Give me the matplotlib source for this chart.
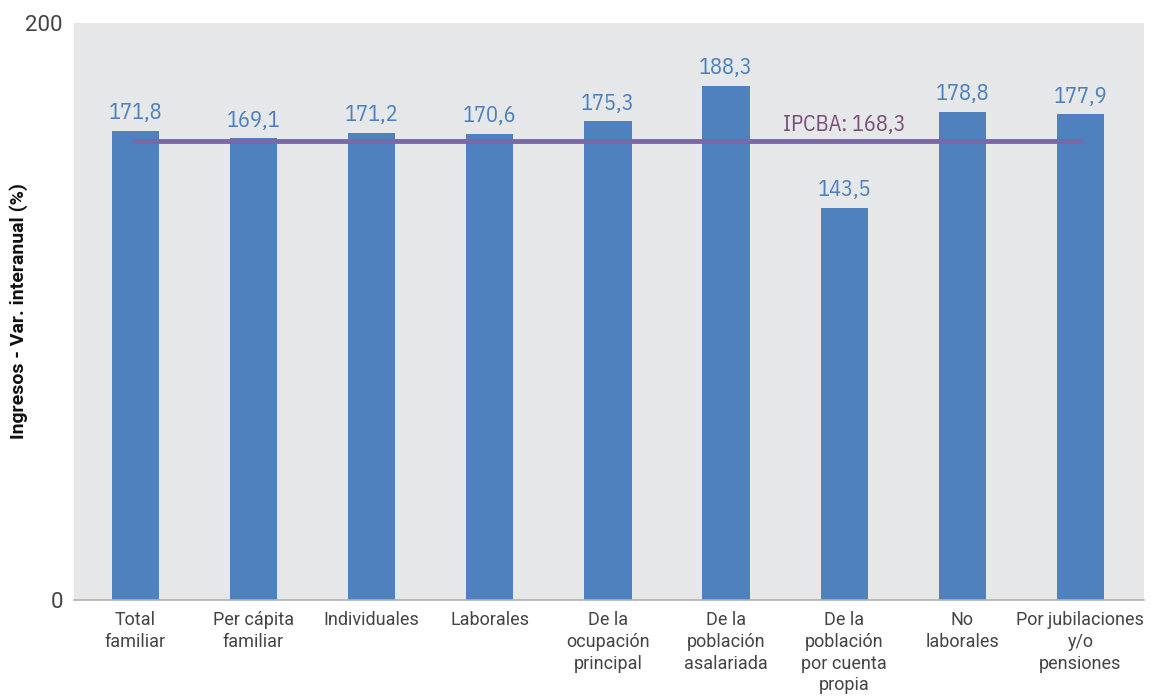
import matplotlib.pyplot as plt
import numpy as np

categories = ["Total\nfamiliar", "Per cápita\nfamiliar", "Individuales", "Laborales",
              "De la\nocupación\nprincipal", "De la\npoblación\nasalariada",
              "De la\npoblación\npor cuenta\npropia", "No\nlaborales",
              "Por jubilaciones\ny/o\npensiones"]
values = [171.8, 169.1, 171.2, 170.6, 175.3, 188.3, 143.5, 178.8, 177.9]
labels = ["171,8", "169,1", "171,2", "170,6", "175,3", "188,3", "143,5", "178,8", "177,9"]
ipcba = 168.3
ipcba_label = "IPCBA: 168,3"

narrow = ["IBM Plex Sans Condensed", "DejaVu Sans"]
plain = ["Roboto", "DejaVu Sans"]

fig = plt.figure(figsize=(11.52, 6.99), dpi=100)
ax = fig.add_axes([0.0642, 0.1416, 0.929, 0.826])
ax.set_facecolor("#e6e7e9")

x = np.arange(len(values))
ax.bar(x, values, width=0.4, color="#4e81bd", zorder=2)
for xi, v, lab in zip(x, values, labels):
    ax.text(xi, v + 2.5, lab, ha="center", va="bottom", color="#4a7fc0",
            fontsize=16, family=narrow)

ax.plot([x[0], x[-1]], [ipcba, ipcba], color="#7b68a8", lw=3.5, zorder=3)
ax.text(6.0, ipcba + 1.5, ipcba_label, ha="center", va="bottom", color="#7a4f7a",
        fontsize=16, family=narrow)

# the reference's top edge sits a bit above 200 and carries the "200" label
ax.set_ylim(0, 211.5)
ax.set_yticks([0, 211.5])
ax.set_yticklabels(["0", "200"], family=plain, fontsize=16, color="#444444")
ax.set_xticks(x)
ax.set_xticklabels(categories, fontsize=13, color="#444444", linespacing=1.27, family=plain)
ax.tick_params(axis="both", length=0)
ax.tick_params(axis="x", pad=8)
ax.tick_params(axis="y", pad=8)
for s in ["top", "right", "left"]:
    ax.spines[s].set_visible(False)
ax.spines["bottom"].set_color("#b0b0b0")
ax.spines["bottom"].set_linewidth(1.2)
ax.set_ylabel("Ingresos - Var. interanual (%)", fontsize=14, fontweight="bold",
              color="#111111", family=plain)
ax.yaxis.set_label_coords(-0.043, 0.5)
ax.set_xlim(-0.52, 8.54)

fig.savefig("out.png", dpi=100)
